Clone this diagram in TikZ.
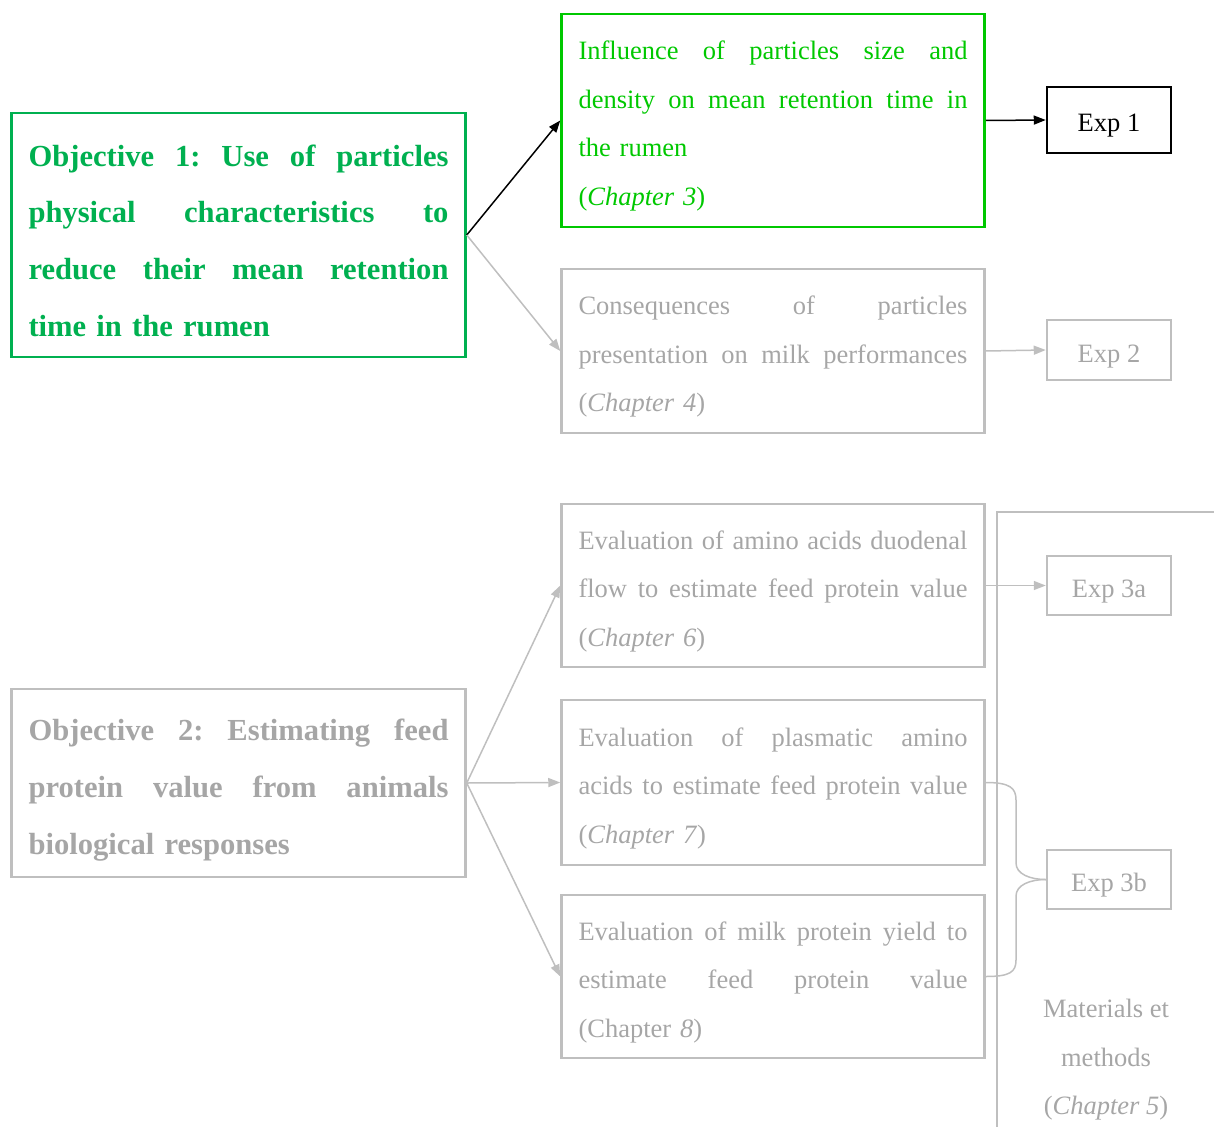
\documentclass[tikz,border=0pt]{standalone}
\usepackage{fontspec}
\setmainfont{Liberation Serif}
\usetikzlibrary{arrows.meta}
\definecolor{gA}{RGB}{0,176,80}
\definecolor{gB}{RGB}{0,200,0}
\definecolor{gline}{RGB}{191,191,191}
\definecolor{gtext}{RGB}{166,166,166}
\newcommand\jl[2][389pt]{\leavevmode\hbox to #1{\frenchspacing\spaceskip=0.25em plus 1fil\relax #2}}
\tikzset{
  chapbox/.style={draw, rectangle, line width=2.5pt, text width=389pt, inner xsep=17pt, inner ysep=0pt, align=left, font=\fontsize{26.5}{48.5}\selectfont, execute at begin node={\rule{0pt}{30pt}}},
  objbox/.style={draw, rectangle, line width=2.5pt, text width=420pt, inner xsep=17pt, inner ysep=0pt, align=left, font=\fontsize{30.6}{56.7}\selectfont\bfseries, execute at begin node={\rule{0pt}{33pt}}},
  expbox/.style={draw, rectangle, line width=2.5pt, minimum width=124pt, inner sep=0pt, font=\fontsize{26.5}{32}\selectfont, text height=24pt, text depth=0pt},
  grayish/.style={draw=gline, text=gtext},
  arr/.style={line width=1.5pt, -{Triangle[length=12pt,width=9pt]}},
}
\begin{document}
\begin{tikzpicture}[x=1pt,y=-1pt]
\useasboundingbox (0,0) rectangle (1214,1126);
% objectives
\node[objbox, draw=gA, text=gA, minimum height=244pt] (obj1) at (238.5,235)
  {\jl[420pt]{Objective 1: Use of particles}\\ \jl[420pt]{physical characteristics to}\\ \jl[420pt]{reduce their mean retention}\\ time in the rumen};
\node[objbox, grayish, minimum height=188pt, execute at begin node={\rule{0pt}{36pt}}] (obj2) at (238.5,783)
  {\jl[420pt]{Objective 2: Estimating feed}\\ \jl[420pt]{protein value from animals}\\ biological responses};
% chapters
\node[chapbox, draw=gB, text=gB, minimum height=213pt] (infl) at (773,120.5)
  {\jl{Influence of particles size and}\\ \jl{density on mean retention time in}\\ the rumen\\ (\textit{Chapter 3})};
\node[chapbox, grayish, minimum height=164pt] (cons) at (773,351)
  {\jl{Consequences of particles}\\ \jl{presentation on milk performances}\\ (\textit{Chapter 4})};
\node[chapbox, grayish, minimum height=163pt] (amino) at (773,585.5)
  {\jl{Evaluation of amino acids duodenal}\\ \jl{flow to estimate feed protein value}\\ (\textit{Chapter 6})};
\node[chapbox, grayish, minimum height=165pt] (plas) at (773,782.5)
  {\jl{Evaluation of plasmatic amino}\\ \jl{acids to estimate feed protein value}\\ (\textit{Chapter 7})};
\node[chapbox, grayish, minimum height=163pt] (milk) at (773,976.5)
  {\jl{Evaluation of milk protein yield to}\\ \jl{estimate feed protein value}\\ (Chapter \textit{8})};
% experiments
\node[expbox, draw=black, minimum height=66pt] (exp1) at (1109,120) {Exp 1};
\node[expbox, grayish, minimum height=60pt] (exp2) at (1109,350) {Exp 2};
\node[expbox, grayish, minimum height=59pt] (exp3a) at (1109,585.5) {Exp 3a};
\node[expbox, grayish, minimum height=59pt] (exp3b) at (1109,879.5) {Exp 3b};
% materials and methods
\node[text=gtext, align=center, font=\fontsize{26.5}{48.5}\selectfont, inner sep=0pt] (mm) at (1106,1060)
  {Materials et\\ methods\\ (\textit{Chapter 5})};
\draw[gline, line width=2.5pt] (1214,512) -- (997,512) -- (997,1130);
% arrows
\draw[arr, black] (obj1.east) -- (infl.west);
\draw[arr, gline] (obj1.east) -- (cons.west);
\draw[arr, black] (infl.east) -- (exp1.west);
\draw[arr, gline] (cons.east) -- (exp2.west);
\draw[arr, gline] (obj2.east) -- (amino.west);
\draw[arr, gline] (obj2.east) -- (plas.west);
\draw[arr, gline] (obj2.east) -- (milk.west);
\draw[arr, gline] (amino.east) -- (exp3a.west);
% brace
\draw[gline, line width=1.5pt] (plas.east) .. controls (1010,782.5) and (1016,788) .. (1016,800)
  -- (1016,863) .. controls (1016,874) and (1030,879.5) .. (exp3b.west);
\draw[gline, line width=1.5pt] (exp3b.west) .. controls (1030,879.5) and (1016,885) .. (1016,896)
  -- (1016,960) .. controls (1016,972) and (1010,976.5) .. (milk.east);
\end{tikzpicture}
\end{document}
